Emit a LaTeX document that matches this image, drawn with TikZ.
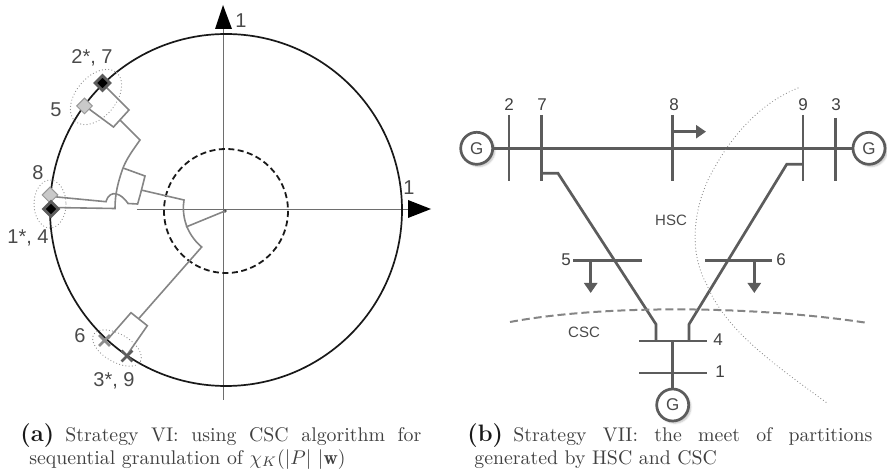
\documentclass[tikz,border=0pt]{standalone}
\usepackage{fontspec}
\usepackage{xcolor}
\usepackage{tikz}
\usetikzlibrary{arrows.meta,positioning,shapes.geometric,shapes.misc,shadows.blur}
\newfontfamily\labelfont{Liberation Sans}
\definecolor{ink}{HTML}{4A4A4A}
\definecolor{wire}{HTML}{5C5C5C}
\definecolor{trace}{HTML}{858585}
\definecolor{axis}{HTML}{6E6E6E}
\definecolor{halo}{HTML}{8C8C8C}
\definecolor{pale}{HTML}{C9C9C9}
\tikzset{
  trc/.style={draw=trace,line width=1.6pt},
  grp/.style={draw=halo,line cap=round,dash pattern=on 0pt off 3.2pt,line width=1.2pt},
  darkmark/.style={diamond,draw=wire,fill=black,line width=2.8pt,minimum size=16pt,inner sep=0pt},
  palemark/.style={diamond,draw=halo!90,fill=pale,line width=1pt,minimum size=16pt,inner sep=0pt},
  darkcross/.style={cross out,draw=wire,line width=2.8pt,minimum size=8pt,inner sep=0pt},
  palecross/.style={cross out,draw=halo,line width=2.8pt,minimum size=8pt,inner sep=0pt},
  nlbl/.style={font=\labelfont\fontsize{20}{20}\selectfont,text=ink,inner sep=0pt},
  blbl/.style={font=\labelfont\fontsize{17}{17}\selectfont,text=black!75,inner sep=0pt},
  slbl/.style={font=\labelfont\fontsize{15}{15}\selectfont,text=ink,inner sep=0pt},
  bar/.style={draw=wire,line width=2.7pt},
  load/.style={draw=wire,line width=2.7pt,-{Triangle[length=10pt,width=13pt]}},
  gen/.style={circle,draw=wire,line width=2.7pt,fill=white,minimum size=32pt,inner sep=0pt,
    font=\labelfont\fontsize{17}{17}\selectfont,text=ink,blur shadow={shadow blur steps=4,shadow opacity=25}},
  capt/.style={scale=1.98,transform shape,inner sep=0pt,anchor=base west,text=black!75},
  capm/.style={scale=1.98,transform shape,inner sep=0pt,anchor=base west,text=black!90,font=\large\bfseries},
}
\begin{document}
\begin{tikzpicture}[x=1pt,y=-1pt]
  \useasboundingbox (0,0) rectangle (887,473);
  % axes and circles
  \draw[axis,line width=1pt] (223,25) -- (223,400);
  \draw[axis,line width=1pt] (137,210) -- (412,210);
  \fill[black] (215,29) -- (223,5) -- (232,29) -- cycle;
  \fill[black] (408,200) -- (431,209) -- (408,218) -- cycle;
  \node[nlbl] (ytop) at (241,21) {1};
  \node[nlbl] (xtop) at (409,188) {1};
  \draw[black!90,line width=1.7pt] (226,210) circle (176);
  \draw[black!90,dash pattern=on 6pt off 3.5pt,line width=1.8pt] (226,211) circle (62);
  \fill[black!70] (225,211) circle (1.8);
  % groups
  \draw[grp] (96,97) ellipse [x radius=32,y radius=20,rotate=50];
  \draw[grp] (50,204) ellipse [x radius=16,y radius=24];
  \draw[grp] (117,348) ellipse [x radius=27,y radius=14,rotate=-30];
  % traces
  \coordinate (p0) at (225,211);
  \coordinate (p1) at (186,227);
  \coordinate (p2) at (201.7,247);
  \coordinate (p3) at (184,200);
  \coordinate (p4) at (139,318.3);
  \draw[trc] (p0) -- (p1);
  \draw[trc] (141,190) -- (p3) .. controls (182,212) and (184,232) .. (p2) -- (p4);
  \draw[trc] (102,83) -- (129,110) -- (113.5,127) -- (85,106);
  \draw[trc] (120,120) -- (140,140) .. controls (133,150) and (127,158) .. (123,168);
  \draw[trc] (123,168) -- (145,176) .. controls (142,188) and (140,196) .. (137.6,204) -- (128,203.5)
    .. controls (122,194) and (110,188) .. (106,201.7) -- (52,196.5);
  \draw[trc] (123,168) .. controls (118,182) and (115,194) .. (115,208.5) -- (52,207.5);
  \draw[trc] (127,355) -- (147.3,325.7) -- (131,312.7) -- (108,339);
  % markers
  \node[darkmark] (m7) at (102.5,83) {};
  \node[palemark] (m5) at (84.5,106) {};
  \node[palemark] (m8) at (50,195) {};
  \node[darkmark] (m4) at (51,209) {};
  \node[palecross] (m6) at (104.5,340.5) {};
  \node[darkcross] (m9) at (127,356) {};
  \node[nlbl] (l7) at (92,58) {2*, 7};
  \node[nlbl] (l5) at (56,110) {5};
  \node[nlbl] (l8) at (38,173) {8};
  \node[nlbl] (l4) at (28,238) {1*, 4};
  \node[nlbl] (l6) at (80,336) {6};
  \node[nlbl] (l9) at (114,381) {3*, 9};
  % network
  \node[gen] (g2) at (476.7,148.3) {G};
  \node[gen] (g3) at (869,148.3) {G};
  \node[gen] (g1) at (672.7,405) {G};
  \coordinate (t2) at (509,115);
  \coordinate (t7) at (541.7,115);
  \coordinate (t8) at (672.7,115);
  \coordinate (t9) at (803,115);
  \coordinate (t3) at (835.7,118);
  \draw[bar] (g2) -- (g3);
  \foreach \b in {2,7,8,9,3} {
    \draw[bar] (t\b) -- (t\b |- 0,181);
  }
  \draw[bar] (639,341) -- (706.7,341);
  \draw[bar] (639,373) -- (706.7,373);
  \draw[bar] (573,260.7) -- (641.7,260.7);
  \draw[bar] (705,260.7) -- (771.7,260.7);
  \draw[bar] (541.7,173.3) -- (558,173.3) -- (656,324.3) -- (656,341);
  \draw[bar] (803,164.3) -- (786.7,164.3) -- (689,324.3) -- (689,341);
  \draw[bar] (672.7,341) -- (g1);
  \draw[load] (672.7,131.7) -- (706,131.7);
  \draw[load] (590.7,260.7) -- (590.7,293);
  \draw[load] (754.3,260.7) -- (754.3,293);
  \node[blbl] (n2) at (509,105) {2};
  \node[blbl] (n7) at (542,105) {7};
  \node[blbl] (n8) at (674,105) {8};
  \node[blbl] (n9) at (803,105) {9};
  \node[blbl] (n3) at (836,105) {3};
  \node[blbl] (n5) at (566,260) {5};
  \node[blbl] (n6) at (781,260) {6};
  \node[blbl] (n4) at (718,340) {4};
  \node[blbl] (n1) at (720,372) {1};
  \node[slbl] (hsc) at (671,220) {HSC};
  \node[slbl] (csc) at (584,332) {CSC};
  % partitions
  \draw[grp] (798,88) .. controls (755,105) and (725,145) .. (708,180)
    .. controls (692,215) and (690,255) .. (707,285)
    .. controls (725,330) and (775,365) .. (827,403);
  \draw[draw=trace,dash pattern=on 8pt off 4pt,line width=2pt] (510,322) .. controls (600,305) and (750,305) .. (868,323);
  % captions
  \node[capm] (capa) at (20,441) {(a)};
  \node[capt] (capa1) at (65,441) {\makebox[179.8pt][s]{Strategy VI: using CSC algorithm for}};
  \node[capt] (capa2) at (29,464) {sequential granulation of $\chi_K(|P|\ |\mathbf{w})$};
  \node[capm] (capb) at (467,441) {(b)};
  \node[capt] (capb1) at (513,441) {\makebox[181.3pt][s]{Strategy VII: the meet of partitions}};
  \node[capt] (capb2) at (474,464) {generated by HSC and CSC};
\end{tikzpicture}
\end{document}
